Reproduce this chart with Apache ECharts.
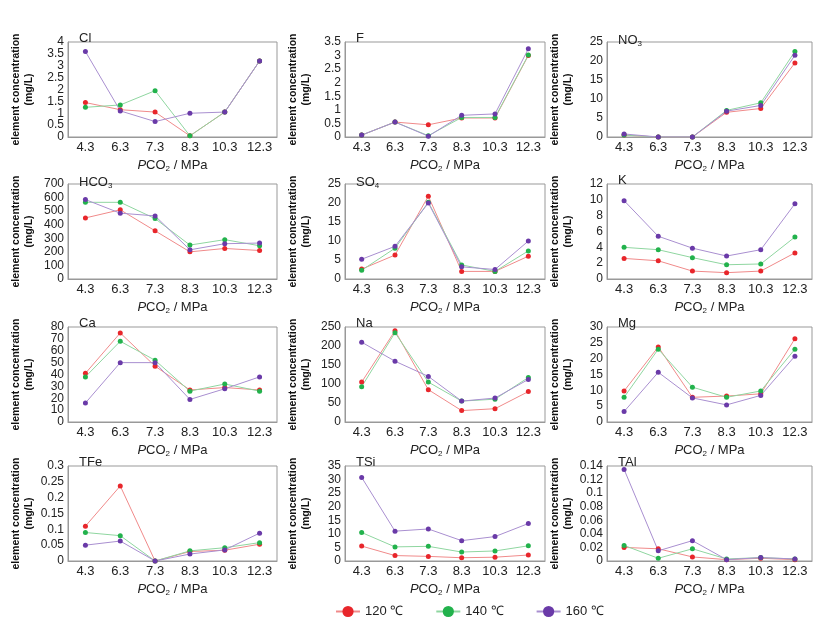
<!DOCTYPE html>
<html><head><meta charset="utf-8">
<script src="https://cdn.jsdelivr.net/npm/echarts@6/dist/echarts.min.js"></script>
<style>body{margin:0;background:#fff}#c{width:828px;height:628px}</style>
</head><body><div id="c"></div>
<script>
var pco2 = ['4.3', '6.3', '7.3', '8.3', '10.3', '12.3'];
var temps = ['120 ℃', '140 ℃', '160 ℃'];

var cl   = [[1.45,1.15,1.05,0.05,1.05,3.2], [1.25,1.35,1.95,0.05,1.05,3.2], [3.6,1.1,0.65,1.0,1.05,3.2]];
var f    = [[0.07,0.55,0.45,0.7,0.7,3.0], [0.07,0.55,0.05,0.72,0.72,3.02], [0.07,0.55,0.03,0.8,0.85,3.25]];
var no3  = [[0.5,0,0,6.5,7.5,19.5], [0.5,0,0,7,9,22.5], [0.8,0,0,6.8,8.3,21.5]];
var hco3 = [[450,510,355,200,225,210], [565,565,445,250,290,245], [585,485,465,215,260,265]];
var so4  = [[2.6,6.3,21.8,2,2,6], [2.3,8.1,20.2,3.7,2,7.4], [5.2,8.6,20,3.2,2.5,10]];
var k    = [[2.6,2.3,1.0,0.8,1.0,3.3], [4.0,3.7,2.7,1.8,1.9,5.3], [9.9,5.4,3.9,2.9,3.7,9.5]];
var ca   = [[41,75,47,27,29,27], [38,68,52,26,32,26], [16,50,50,19,28,38]];
var na   = [[105,240,85,30,35,80], [93,235,105,55,60,117], [210,160,120,55,63,112]];
var mg   = [[9.8,23.7,7.8,8.2,8.9,26.3], [7.8,23,11,7.8,9.8,23], [3.3,15.7,7.6,5.4,8.4,20.8]];
var tfe  = [[0.11,0.237,0,0.03,0.034,0.053], [0.09,0.08,0,0.032,0.042,0.058], [0.05,0.063,0,0.022,0.035,0.088]];
var tsi  = [[5.5,2,1.7,1.2,1.4,2.2], [10.5,5.2,5.4,3.3,3.7,5.6], [30.8,11,11.8,7.5,9,13.8]];
var tal  = [[0.02,0.018,0.006,0.002,0.004,0.002], [0.023,0.004,0.018,0.003,0.005,0.003], [0.135,0.015,0.03,0.002,0.005,0.003]];

// name, data, max, interval
var panels = [
  ['Cl', cl, 4, 0.5], ['F', f, 3.5, 0.5], ['NO{s|3}', no3, 25, 5],
  ['HCO{s|3}', hco3, 700, 100], ['SO{s|4}', so4, 25, 5], ['K', k, 12, 2],
  ['Ca', ca, 80, 10], ['Na', na, 250, 50], ['Mg', mg, 30, 5],
  ['TFe', tfe, 0.3, 0.05], ['TSi', tsi, 35, 5], ['TAl', tal, 0.14, 0.02]
];
var colors = ['#e8262b', '#22b24c', '#6a3aa8'];
var lineColors = ['#f08a8a', '#8fd6a0', '#a98fd0'];
var colLeft = [68, 345, 607], colW = [209, 200, 205];
var rowTop = [42, 184, 327, 466], rowH = 95;
var font = 'Liberation Sans, Arial';

var grid = [], xAxis = [], yAxis = [], series = [], title = [];
panels.forEach(function (p, i) {
  var c = i % 3, r = Math.floor(i / 3);
  grid.push({left: colLeft[c], top: rowTop[r], width: colW[c], height: rowH,
    show: true, borderColor: '#999', borderWidth: 1});
  title.push({text: p[0], left: colLeft[c] + 6, top: rowTop[r] - 15,
    textStyle: {fontSize: 13, fontWeight: 'normal', fontFamily: font, color: '#222',
      rich: {s: {fontSize: 8, verticalAlign: 'bottom', padding: [8, 0, 0, 0], fontFamily: font}}}});
  xAxis.push({type: 'category', gridIndex: i, data: pco2, boundaryGap: true,
    axisLine: {lineStyle: {color: '#999'}}, axisTick: {show: false},
    axisLabel: {fontSize: 13, color: '#222', fontFamily: font, margin: 4},
    name: '{i|P}CO{s|2} / MPa', nameLocation: 'middle', nameGap: 20,
    nameTextStyle: {fontSize: 13, color: '#222', fontFamily: font,
      rich: {i: {fontStyle: 'italic', fontSize: 13, fontFamily: font},
             s: {fontSize: 8, verticalAlign: 'bottom', padding: [8, 0, 0, 0], fontFamily: font}}}});
  yAxis.push({type: 'value', gridIndex: i, min: 0, max: p[2], interval: p[3],
    splitLine: {show: false}, axisLine: {show: true, lineStyle: {color: '#999'}},
    axisTick: {show: false},
    axisLabel: {fontSize: 12, color: '#222', fontFamily: font, margin: 4,
      showMinLabel: true, showMaxLabel: true, hideOverlap: false},
    name: 'element concentration\n(mg/L)', nameLocation: 'middle', nameGap: 32,
    nameTextStyle: {fontSize: 10.5, fontWeight: 'bold', color: '#111',
      fontFamily: font, lineHeight: 13}});
  p[1].forEach(function (d, j) {
    series.push({name: temps[j], type: 'line', xAxisIndex: i, yAxisIndex: i, data: d,
      symbol: 'circle', symbolSize: 5, itemStyle: {color: colors[j]},
      lineStyle: {color: lineColors[j], width: 1}});
  });
});

var chart = echarts.init(document.getElementById('c'));
chart.setOption({
  animation: false,
  color: colors,
  title: title,
  grid: grid, xAxis: xAxis, yAxis: yAxis, series: series,
  legend: {data: temps, top: 600, left: 330, itemGap: 32, itemWidth: 24,
    textStyle: {fontSize: 13, fontFamily: font, color: '#222'}}
});
</script></body></html>
